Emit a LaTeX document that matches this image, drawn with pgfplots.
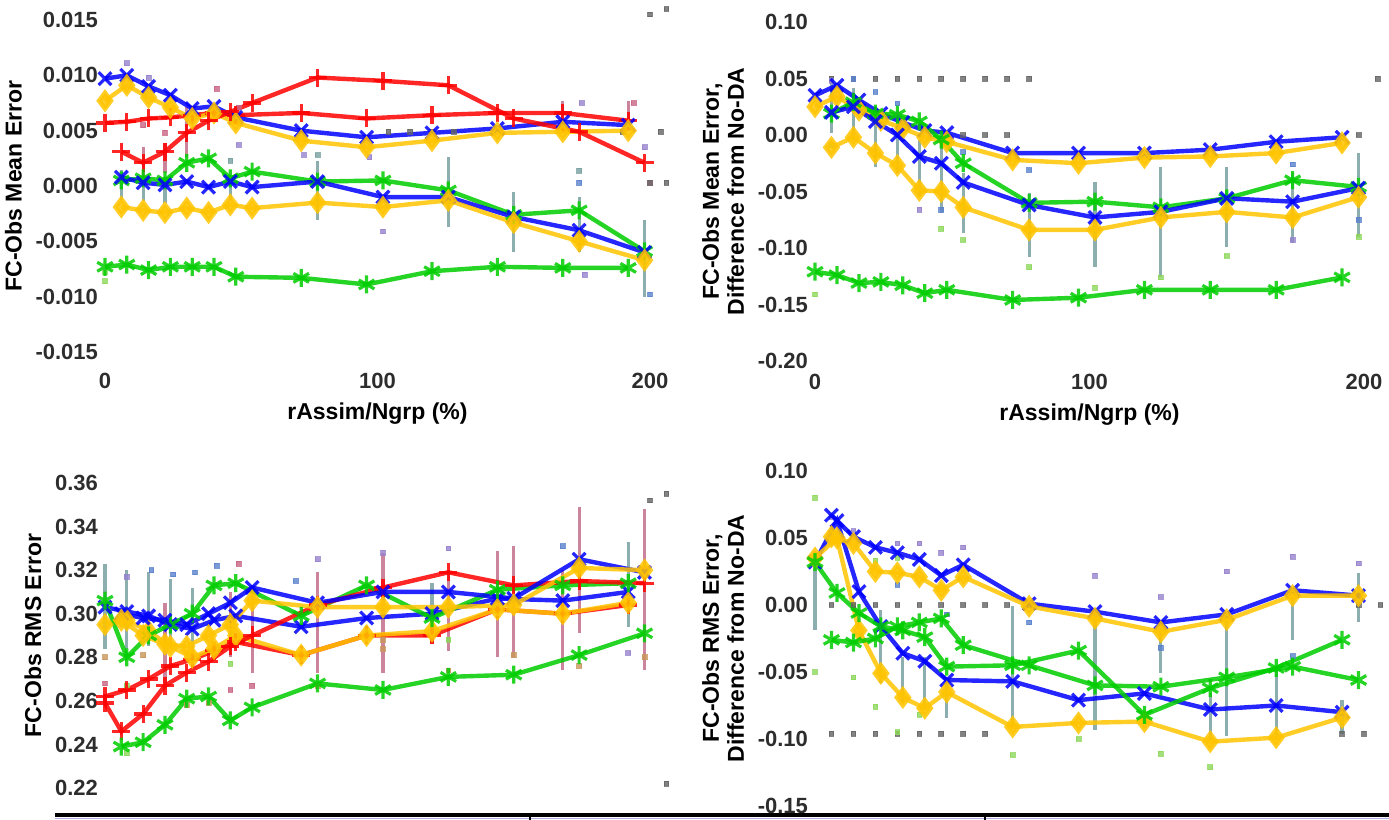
\documentclass[border=0pt]{standalone}
\usepackage{fontspec}
\setmainfont{Liberation Sans}
\usepackage{pgfplots}
\pgfplotsset{compat=1.18}

\definecolor{cred}{RGB}{255,0,0}
\definecolor{cblue}{RGB}{0,0,255}
\definecolor{corange}{RGB}{255,196,0}
\definecolor{cgreen}{RGB}{0,205,0}
\definecolor{eteal}{RGB}{120,160,160}
\definecolor{emauve}{RGB}{195,110,140}
\definecolor{labgray}{RGB}{45,45,45}
\definecolor{dlav}{RGB}{150,130,205}
\definecolor{dpink}{RGB}{200,100,130}
\definecolor{dsteel}{RGB}{90,130,205}
\definecolor{dlgreen}{RGB}{140,215,90}
\definecolor{dtan}{RGB}{200,150,90}
\definecolor{dgray}{RGB}{100,100,100}

\pgfplotsset{
  panel/.style={
    scale only axis, clip=false,
    xmin=0, xmax=200, xtick={0,100,200},
    axis line style={draw=none}, tick style={draw=none}, major tick length=0pt,
    ticklabel style={font=\bfseries\fontsize{11}{12}\selectfont, text=labgray},
    label style={font=\bfseries\fontsize{11.5}{12.5}\selectfont, text=black},
    /pgf/number format/assume math mode=true,
    scaled y ticks=false,
    yticklabel style={/pgf/number format/fixed, /pgf/number format/fixed zerofill},
    xlabel={rAssim/Ngrp (\%)},
  },
  lr/.style={cred, line width=2.2pt, opacity=0.85, mark=+, mark size=4.5pt, mark options={line width=1.6pt}},
  lb/.style={cblue, line width=2.2pt, opacity=0.85, mark=x, mark size=4.5pt, mark options={line width=1.6pt}},
  lo/.style={corange, line width=2.2pt, opacity=0.85, mark=diamond*, mark size=4pt},
  lg/.style={cgreen, line width=2.2pt, opacity=0.85, mark=asterisk, mark size=4.5pt, mark options={line width=1.6pt}},
  eb/.style={draw=none, forget plot, error bars/.cd, y dir=both, y explicit, error mark=none,
    error bar style={draw=#1, line width=1.6pt, opacity=0.85}},
  dots/.style={only marks, forget plot, mark=square*, mark size=1.2pt, color=#1, opacity=0.8},
}

\begin{document}
\begin{tikzpicture}
\useasboundingbox (0,0) rectangle (694.5pt,410pt);

% top left
\begin{axis}[panel, at={(52.5pt,234pt)}, anchor=south west, width=272.5pt, height=166pt,
  ymin=-0.015, ymax=0.015, ytick={-0.015,-0.01,-0.005,0,0.005,0.01,0.015},
  yticklabel style={/pgf/number format/precision=3},
  xticklabel style={yshift=-7pt},
  ylabel={FC-Obs Mean Error}]
\addplot[eb=eteal] coordinates {(6,0.0001) +- (0,0.00135) (14,-0.0001) +- (0,0.0013) (22,-0.00035) +- (0,0.00115)
  (46,-0.0004) +- (0,0.0009) (78,-0.0004) +- (0,0.0027) (126,-0.00055) +- (0,0.00315)
  (150,-0.00325) +- (0,0.00275) (174,-0.0035) +- (0,0.0025) (198,-0.00655) +- (0,0.00345)};
\addplot[eb=emauve] coordinates {(14,0.00215) +- (0,0.00135) (22,0.00255) +- (0,0.00135) (30,0.00485) +- (0,0.00225)
  (168,0.00625) +- (0,0.00145) (192,0.00635) +- (0,0.00135)};
\addplot[dots=dlav] coordinates {(8,0.0111) (16,0.0098) (49,0.0037) (73,0.0028) (97,0.0026) (102,-0.0041) (175,0.0075) (176,-0.0080) (198,0.0035)};
\addplot[dots=dpink] coordinates {(41,0.0088) (49,0.0071) (14,0.0055) (22,0.0048) (194,0.0075) (200,0.0003)};
\addplot[dots=eteal] coordinates {(78,0.0028) (46,0.0023) (174,0.0014)};
\addplot[dots=dsteel] coordinates {(200,-0.0098) (174,0.0003)};
\addplot[dots=dlgreen] coordinates {(0,-0.0078) (0,-0.0086)};
\addplot[dots=dgray] coordinates {(104,0.0049) (112,0.0049) (120,0.0049) (128,0.0049) (190,0.0049) (204,0.0049) (200,0.0155) (206,0.0160) (200,0.0003) (206,0.0003)};
\addplot[lr] coordinates {(0,0.0057) (8,0.0058) (16,0.0061) (24,0.0062) (32,0.0064) (40,0.0066) (48,0.0064) (72,0.0066) (96,0.0061) (120,0.0064) (144,0.0066) (168,0.0066) (192,0.0059)};
\addplot[lb] coordinates {(0,0.0097) (8,0.0100) (16,0.0090) (24,0.0082) (32,0.0070) (40,0.0072) (48,0.0062) (72,0.0050) (96,0.0044) (120,0.0048) (144,0.0052) (168,0.0058) (192,0.0055)};
\addplot[lo] coordinates {(0,0.0077) (8,0.0091) (16,0.0080) (24,0.0071) (32,0.0061) (40,0.0066) (48,0.0057) (72,0.0041) (96,0.0035) (120,0.0041) (144,0.0048) (168,0.0049) (192,0.0050)};
\addplot[lg] coordinates {(0,-0.0073) (8,-0.0071) (16,-0.0076) (24,-0.0073) (32,-0.0073) (40,-0.0073) (48,-0.0082) (72,-0.0083) (96,-0.0089) (120,-0.0077) (144,-0.0073) (168,-0.0074) (192,-0.0074)};
\addplot[lr] coordinates {(6,0.0031) (14,0.0021) (22,0.0031) (30,0.0048) (38,0.0059) (46,0.0067) (54,0.0075) (78,0.0098) (102,0.0095) (126,0.0091) (150,0.0061) (174,0.0049) (198,0.0021)};
\addplot[lg] coordinates {(6,0.0005) (14,0.0007) (22,0.0005) (30,0.0021) (38,0.0025) (46,0.0007) (54,0.0013) (78,0.0004) (102,0.0005) (126,-0.0004) (150,-0.0026) (174,-0.0022) (198,-0.0059)};
\addplot[lb] coordinates {(6,0.0008) (14,0.0003) (22,0.0001) (30,0.0004) (38,-0.0001) (46,0.0004) (54,-0.0001) (78,0.0004) (102,-0.0010) (126,-0.0010) (150,-0.0028) (174,-0.0040) (198,-0.0060)};
\addplot[lo] coordinates {(6,-0.0019) (14,-0.0022) (22,-0.0024) (30,-0.0020) (38,-0.0024) (46,-0.0017) (54,-0.0020) (78,-0.0015) (102,-0.0019) (126,-0.0013) (150,-0.0033) (174,-0.0050) (198,-0.0067)};
\end{axis}

% top right
\begin{axis}[panel, at={(407.5pt,229.5pt)}, anchor=south west, width=274.5pt, height=169.5pt,
  ymin=-0.20, ymax=0.10, ytick={-0.2,-0.15,-0.1,-0.05,0,0.05,0.1},
  yticklabel style={/pgf/number format/precision=2},
  xticklabel style={yshift=-3pt},
  ylabel style={align=center},
  ylabel={FC-Obs Mean Error,\\ Difference from No-DA}]
\addplot[eb=eteal] coordinates {(6,0.0255) +- (0,0.0235) (14,0.019) +- (0,0.023) (22,-0.003) +- (0,0.025)
  (30,-0.006) +- (0,0.028) (38,-0.0295) +- (0,0.0255) (46,-0.038) +- (0,0.031) (54,-0.0605) +- (0,0.0265)
  (78,-0.0795) +- (0,0.0285) (102,-0.0795) +- (0,0.0375) (126,-0.077) +- (0,0.049) (150,-0.0635) +- (0,0.0355)
  (174,-0.065) +- (0,0.031) (198,-0.053) +- (0,0.037)};
\addplot[dots=dgray] coordinates {(6,0.05) (14,0.05) (22,0.05) (30,0.05) (38,0.05) (46,0.05) (54,0.05) (62,0.05) (70,0.05) (78,0.05) (205,0.05)
  (54,0.0) (62,0.0) (70,0.0) (198,0.0)};
\addplot[dots=dsteel] coordinates {(14,0.050) (22,0.038) (30,0.028) (46,-0.066) (54,-0.015) (78,-0.031) (174,-0.026) (198,-0.075)};
\addplot[dots=dlav] coordinates {(6,0.048) (38,-0.066) (174,-0.093) (30,0.018)};
\addplot[dots=dlgreen] coordinates {(6,-0.009) (46,-0.083) (54,-0.093) (78,-0.117) (102,-0.135) (126,-0.126) (150,-0.107) (198,-0.090) (0,-0.141)};
\addplot[lb] coordinates {(0,0.035) (8,0.044) (16,0.031) (24,0.019) (32,0.011) (40,0.004) (48,0.002) (72,-0.016) (96,-0.016) (120,-0.016) (144,-0.013) (168,-0.006) (192,-0.002)};
\addplot[lo] coordinates {(0,0.025) (8,0.034) (16,0.022) (24,0.013) (32,0.006) (40,-0.002) (48,-0.006) (72,-0.022) (96,-0.025) (120,-0.020) (144,-0.019) (168,-0.016) (192,-0.007)};
\addplot[lg] coordinates {(0,-0.121) (8,-0.124) (16,-0.131) (24,-0.130) (32,-0.133) (40,-0.140) (48,-0.137) (72,-0.146) (96,-0.144) (120,-0.137) (144,-0.137) (168,-0.137) (192,-0.126)};
\addplot[lg] coordinates {(6,0.019) (14,0.029) (22,0.019) (30,0.018) (38,0.012) (46,-0.004) (54,-0.025) (78,-0.060) (102,-0.059) (126,-0.064) (150,-0.056) (174,-0.040) (198,-0.046)};
\addplot[lb] coordinates {(6,0.020) (14,0.025) (22,0.012) (30,0.000) (38,-0.019) (46,-0.025) (54,-0.042) (78,-0.062) (102,-0.073) (126,-0.068) (150,-0.056) (174,-0.059) (198,-0.047)};
\addplot[lo] coordinates {(6,-0.011) (14,-0.002) (22,-0.016) (30,-0.027) (38,-0.049) (46,-0.050) (54,-0.064) (78,-0.084) (102,-0.084) (126,-0.073) (150,-0.068) (174,-0.073) (198,-0.055)};
\end{axis}

% bottom left
\begin{axis}[panel, at={(52.5pt,16pt)}, anchor=south west, width=272.5pt, height=152.5pt,
  ymin=0.22, ymax=0.36, ytick={0.22,0.24,0.26,0.28,0.30,0.32,0.34,0.36},
  yticklabel style={/pgf/number format/precision=2},
  xticklabels={}, xlabel={},
  ylabel={FC-Obs RMS Error}]
\addplot[eb=eteal] coordinates {(0,0.3035) +- (0,0.0195) (8,0.302) +- (0,0.018) (16,0.302) +- (0,0.017) (24,0.300) +- (0,0.016)
  (32,0.298) +- (0,0.014) (120,0.300) +- (0,0.014) (192,0.3135) +- (0,0.0195)};
\addplot[eb=emauve] coordinates {(22,0.2865) +- (0,0.0185) (46,0.295) +- (0,0.015) (54,0.293) +- (0,0.02)
  (78,0.296) +- (0,0.023) (102,0.3005) +- (0,0.0275) (126,0.3015) +- (0,0.0185) (144,0.3045) +- (0,0.0245)
  (150,0.3055) +- (0,0.0255) (168,0.297) +- (0,0.023) (174,0.320) +- (0,0.029) (198,0.311) +- (0,0.037)};
\addplot[dots=dsteel] coordinates {(17,0.320) (25,0.318) (33,0.319) (41,0.322) (70,0.315) (168,0.331)};
\addplot[dots=dlav] coordinates {(8,0.317) (78,0.325) (102,0.328) (126,0.330) (192,0.282)};
\addplot[dots=dpink] coordinates {(0,0.268) (49,0.323) (46,0.265) (54,0.267)};
\addplot[dots=dtan] coordinates {(0,0.280) (14,0.281) (30,0.258) (38,0.259) (78,0.267) (102,0.288) (102,0.284) (126,0.274) (150,0.281) (174,0.276) (198,0.280)};
\addplot[dots=dlgreen] coordinates {(8,0.267) (126,0.288) (46,0.277) (8,0.236)};
\addplot[dots=dgray] coordinates {(200,0.352) (206,0.355) (206,0.222)};
\addplot[lr] coordinates {(0,0.262) (8,0.265) (16,0.270) (24,0.276) (32,0.279) (40,0.283) (48,0.287) (72,0.281) (96,0.290) (120,0.290) (144,0.302) (168,0.300) (192,0.304)};
\addplot[lb] coordinates {(0,0.303) (8,0.301) (16,0.299) (24,0.295) (32,0.293) (40,0.297) (48,0.299) (72,0.294) (96,0.298) (120,0.300) (144,0.307) (168,0.306) (192,0.310)};
\addplot[lo] coordinates {(0,0.295) (8,0.297) (16,0.292) (24,0.285) (32,0.280) (40,0.284) (48,0.290) (72,0.281) (96,0.290) (120,0.292) (144,0.302) (168,0.300) (192,0.305)};
\addplot[lg] coordinates {(0,0.306) (8,0.280) (16,0.290) (24,0.295) (32,0.300) (40,0.313) (48,0.314) (72,0.299) (96,0.313) (120,0.298) (144,0.311) (168,0.313) (192,0.314)};
\addplot[lr] coordinates {(0,0.259) (6,0.246) (14,0.254) (22,0.267) (30,0.273) (38,0.278) (46,0.285) (54,0.290) (78,0.304) (102,0.312) (126,0.319) (150,0.313) (174,0.315) (198,0.314)};
\addplot[lb] coordinates {(6,0.300) (14,0.298) (22,0.297) (30,0.295) (38,0.300) (46,0.305) (54,0.312) (78,0.305) (102,0.310) (126,0.310) (150,0.307) (174,0.325) (198,0.319)};
\addplot[lo] coordinates {(6,0.297) (14,0.290) (22,0.286) (30,0.285) (38,0.290) (46,0.295) (54,0.306) (78,0.303) (102,0.303) (126,0.303) (150,0.304) (174,0.321) (198,0.320)};
\addplot[lg] coordinates {(6,0.239) (14,0.241) (22,0.249) (30,0.261) (38,0.262) (46,0.251) (54,0.257) (78,0.268) (102,0.265) (126,0.271) (150,0.272) (174,0.281) (198,0.291)};
\end{axis}

% bottom right
\begin{axis}[panel, at={(407.5pt,7pt)}, anchor=south west, width=274.5pt, height=167.5pt,
  ymin=-0.15, ymax=0.10, ytick={-0.15,-0.1,-0.05,0,0.05,0.1},
  yticklabel style={/pgf/number format/precision=2},
  xticklabels={}, xlabel={},
  ylabel style={align=center},
  ylabel={FC-Obs RMS Error,\\ Difference from No-DA}]
\addplot[eb=eteal] coordinates {(0,0.0045) +- (0,0.0235) (24,-0.031) +- (0,0.027) (32,-0.056) +- (0,0.017)
  (40,-0.0585) +- (0,0.0195) (48,-0.069) +- (0,0.015) (72,-0.046) +- (0,0.045) (102,-0.0475) +- (0,0.0455)
  (126,-0.0335) +- (0,0.0175) (144,-0.083) +- (0,0.0175) (150,-0.0535) +- (0,0.0445) (168,-0.0735) +- (0,0.0275)
  (174,-0.010) +- (0,0.016) (192,-0.0835) +- (0,0.0125) (198,0.0055) +- (0,0.0185)};
\addplot[dots=dgray] coordinates {(6,0) (14,0) (22,0) (30,0) (38,0) (46,0) (54,0) (62,0) (70,0) (78,0) (198,0) (206,0)
  (6,-0.096) (14,-0.096) (22,-0.096) (30,-0.096) (38,-0.096) (46,-0.096) (54,-0.096) (62,-0.096) (192,-0.096) (200,-0.096)};
\addplot[dots=dlav] coordinates {(6,0.066) (14,0.055) (30,0.046) (38,0.046) (46,0.039) (54,0.043) (102,0.022) (126,0.006) (150,0.025) (174,0.036) (198,0.031)};
\addplot[dots=dlgreen] coordinates {(0,0.080) (14,-0.054) (22,-0.076) (30,-0.095) (38,-0.082) (72,-0.112) (96,-0.100) (126,-0.111) (144,-0.121) (22,0.033) (30,0.035) (0,-0.05)};
\addplot[dots=dsteel] coordinates {(30,0.015) (48,-0.007) (78,-0.013) (126,-0.032) (174,-0.038)};
\addplot[lb] coordinates {(0,0.032) (8,0.063) (16,0.010) (24,-0.016) (32,-0.036) (40,-0.042) (48,-0.056) (72,-0.057) (96,-0.071) (120,-0.066) (144,-0.078) (168,-0.075) (192,-0.080)};
\addplot[lo] coordinates {(0,0.035) (8,0.050) (16,-0.019) (24,-0.051) (32,-0.069) (40,-0.077) (48,-0.065) (72,-0.091) (96,-0.088) (120,-0.087) (144,-0.102) (168,-0.099) (192,-0.084)};
\addplot[lg] coordinates {(0,0.032) (8,0.009) (16,-0.006) (24,-0.016) (32,-0.019) (40,-0.024) (48,-0.046) (72,-0.045) (96,-0.034) (120,-0.082) (144,-0.062) (168,-0.047) (192,-0.026)};
\addplot[lb] coordinates {(6,0.067) (14,0.051) (22,0.043) (30,0.039) (38,0.034) (46,0.022) (54,0.030) (78,0.001) (102,-0.005) (126,-0.013) (150,-0.007) (174,0.011) (198,0.007)};
\addplot[lo] coordinates {(6,0.051) (14,0.046) (22,0.025) (30,0.024) (38,0.021) (46,0.011) (54,0.021) (78,-0.001) (102,-0.010) (126,-0.020) (150,-0.011) (174,0.007) (198,0.007)};
\addplot[lg] coordinates {(6,-0.026) (14,-0.028) (22,-0.025) (30,-0.016) (38,-0.013) (46,-0.010) (54,-0.030) (78,-0.045) (102,-0.060) (126,-0.061) (150,-0.054) (174,-0.046) (198,-0.056)};
\end{axis}

\draw[draw={rgb,255:red,180;green,170;blue,230}, line width=0.6pt] (27.5pt,0.6pt) -- (694.5pt,0.6pt);
\draw[line width=2pt] (27.5pt,2.5pt) -- (694.5pt,2.5pt);
\draw[line width=0.8pt] (265pt,2.5pt) -- (265pt,0pt);
\draw[line width=0.8pt] (492.5pt,2.5pt) -- (492.5pt,0pt);
\end{tikzpicture}
\end{document}
